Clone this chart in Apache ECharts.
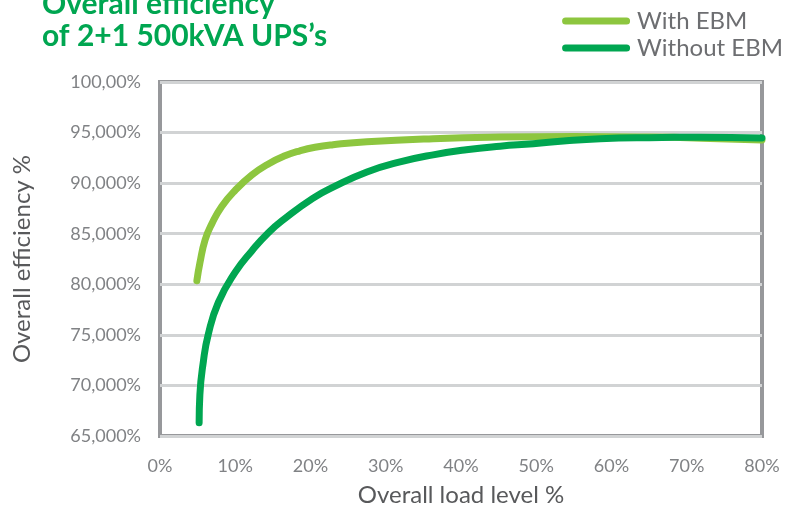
<!DOCTYPE html>
<html><head><meta charset="utf-8">
<script src="https://cdn.jsdelivr.net/npm/echarts@6/dist/echarts.min.js"></script>
<style>html,body{margin:0;padding:0;background:#fff}#c{width:785px;height:512px}</style>
</head><body><div id="c"></div>
<script>
const titleText = "Overall efficiency\nof 2+1 500kVA UPS\u2019s";
const seriesNames = ["With EBM", "Without EBM"];
const xTitle = "Overall load level %";
const yTitle = "Overall efficiency %";
const withLoad = [4.9, 5.3, 6.0, 6.9, 8.2, 10, 12.2, 14.4, 16.6, 18.6, 20.6, 23, 27.5, 36.3, 45.2, 55, 65, 72, 80];
const withEff = [80.35, 82.1, 84.4, 86.0, 87.7, 89.3, 90.8, 91.9, 92.7, 93.2, 93.55, 93.8, 94.1, 94.4, 94.55, 94.6, 94.55, 94.45, 94.27];
const withoutLoad = [5.2, 5.3, 5.76, 6.4, 7.75, 10, 12.2, 14.4, 16.6, 20.3, 23, 27.5, 31.9, 36.3, 40.7, 45.2, 49.6, 54, 58.5, 65, 71.8, 80];
const withoutEff = [66.3, 69.1, 72.35, 75.0, 78.2, 81.2, 83.3, 85.1, 86.5, 88.5, 89.6, 91.1, 92.1, 92.8, 93.3, 93.65, 93.9, 94.2, 94.4, 94.5, 94.53, 94.47];
const yTickLabels = {100: "100,00%", 95: "95,000%", 90: "90,000%", 85: "85,000%", 80: "80,000%", 75: "75,000%", 70: "70,000%", 65: "65,000%"};

const zip = (a, b) => a.map((v, i) => [v, b[i]]);
const font = "Lato, 'Noto Sans', sans-serif";
const chart = echarts.init(document.getElementById('c'));
chart.setOption({
  animation: false,
  title: {
    text: titleText, left: 37, top: -17,
    textStyle: {color: '#00a651', fontSize: 30, fontWeight: 'bold', lineHeight: 32, fontFamily: font}
  },
  legend: {
    orient: 'vertical', right: 2, top: 9, itemGap: 3, padding: 0,
    itemWidth: 68, itemHeight: 7,
    icon: 'path://M3.5,0 H64.5 A3.5,3.5 0 0 1 64.5,7 H3.5 A3.5,3.5 0 0 1 3.5,0 Z',
    textStyle: {color: '#6d6e71', fontSize: 24, lineHeight: 24, fontFamily: font, padding: [0,0,0,2]},
    data: seriesNames
  },
  grid: {left: 160, right: 23, top: 82, bottom: 74, show: true, borderColor: '#97989b', borderWidth: 4, backgroundColor: '#fff'},
  xAxis: {
    type: 'value', min: 0, max: 80, interval: 10,
    name: xTitle, nameLocation: 'middle', nameGap: 47,
    nameTextStyle: {color: '#58595b', fontSize: 24, fontFamily: font},
    axisLine: {show: false}, axisTick: {show: false}, splitLine: {show: false},
    axisLabel: {color: '#808285', fontSize: 18, margin: 21, fontFamily: font, formatter: v => v + '%'}
  },
  yAxis: {
    type: 'value', min: 65, max: 100, interval: 5,
    name: yTitle, nameLocation: 'middle', nameGap: 126,
    nameTextStyle: {color: '#58595b', fontSize: 24, fontFamily: font},
    axisLine: {show: false}, axisTick: {show: false},
    splitLine: {lineStyle: {color: '#d1d3d4', width: 3}},
    axisLabel: {color: '#808285', fontSize: 18, margin: 19, fontFamily: font, formatter: v => yTickLabels[v] || ''}
  },
  series: [
    {name: seriesNames[0], type: 'line', smooth: 0.5, showSymbol: false, symbol: 'none', z: 2,
     color: '#8dc63f', lineStyle: {width: 7, cap: 'round', join: 'round', color: '#8dc63f'}, data: zip(withLoad, withEff)},
    {name: seriesNames[1], type: 'line', smooth: 0.5, showSymbol: false, symbol: 'none', z: 3,
     color: '#00a651', lineStyle: {width: 7, cap: 'round', join: 'round', color: '#00a651'}, data: zip(withoutLoad, withoutEff)}
  ]
});
</script></body></html>
